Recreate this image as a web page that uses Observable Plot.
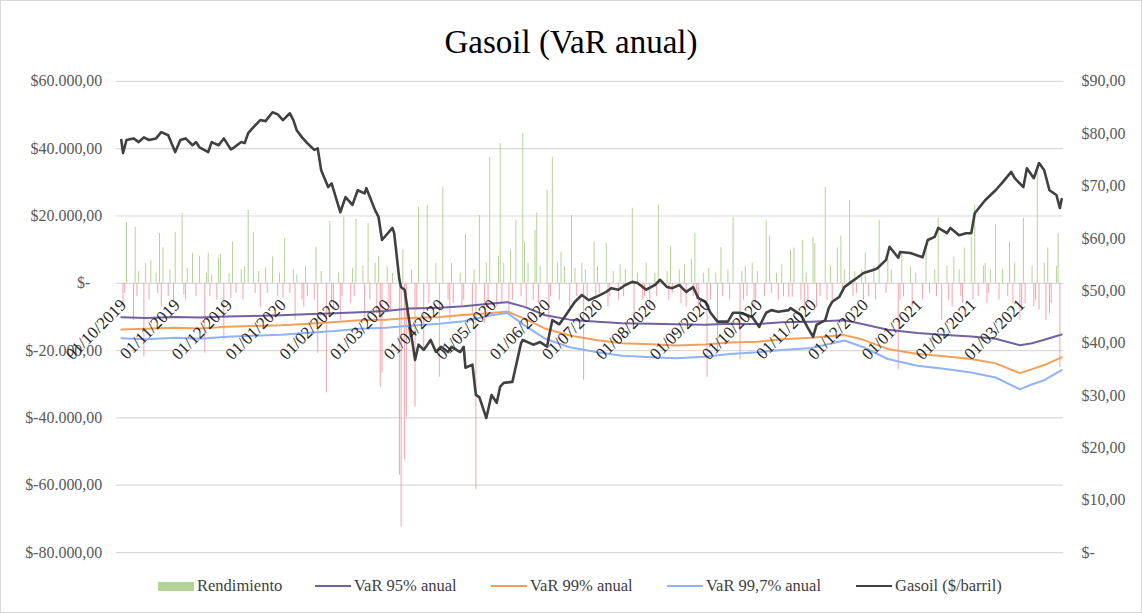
<!DOCTYPE html>
<html><head><meta charset="utf-8">
<script src="https://cdn.jsdelivr.net/npm/d3@7"></script>
<script src="https://cdn.jsdelivr.net/npm/@observablehq/plot@0.6"></script>
<style>
body{margin:0;background:#fff;}
#wrap{position:relative;width:1142px;height:613px;overflow:hidden;font-family:"Liberation Serif","Times New Roman",serif;box-sizing:border-box;border:1px solid #d9d9d9;}
#wrap svg{position:absolute;left:-1px;top:-1px;}
#title{position:absolute;left:0;width:1140px;top:21px;text-align:center;font-size:33px;line-height:40px;color:#000;}
.leg{position:absolute;top:575px;height:20px;font-size:16.5px;line-height:20px;color:#404040;white-space:nowrap;}
.sw{position:absolute;}
</style></head><body>
<div id="wrap"><div id="title">Gasoil (VaR anual)</div><div id="legend"></div></div>
<script>
// ---- DATA ----
const monthTicks = ["2019-10-01","2019-11-01","2019-12-01","2020-01-01","2020-02-01","2020-03-01","2020-04-01","2020-05-01","2020-06-01","2020-07-01","2020-08-01","2020-09-01","2020-10-01","2020-11-01","2020-12-01","2021-01-01","2021-02-01","2021-03-01"];
const leftTicks = [60000,40000,20000,0,-20000,-40000,-60000,-80000];
const rightTicks = [90,80,70,60,50,40,30,20,10,0];

// Rendimiento (daily P&L)
const rendimiento = [
["2019-10-02",-7100],["2019-10-03",-3000],["2019-10-04",18000],["2019-10-08",-11000],["2019-10-09",16600],["2019-10-10",-4000],["2019-10-11",3500],["2019-10-14",-21900],["2019-10-15",5900],["2019-10-17",-5000],["2019-10-18",6800],["2019-10-21",3000],["2019-10-22",-3000],["2019-10-23",14800],["2019-10-24",-7100],["2019-10-25",10500],["2019-10-28",-4000],["2019-10-29",4000],["2019-10-31",-5500],
["2019-11-01",15100],["2019-11-05",20800],["2019-11-06",-3500],["2019-11-07",-5000],["2019-11-08",4500],["2019-11-11",8900],["2019-11-13",-4000],["2019-11-15",8000],["2019-11-18",-20800],["2019-11-19",3000],["2019-11-20",9000],["2019-11-21",-4000],["2019-11-22",2500],["2019-11-25",-5000],["2019-11-26",7500],["2019-11-27",8500],["2019-11-29",-16900],
["2019-12-02",3000],["2019-12-03",-4500],["2019-12-04",12200],["2019-12-06",-3000],["2019-12-09",4000],["2019-12-10",-5000],["2019-12-11",5000],["2019-12-13",21700],["2019-12-16",15100],["2019-12-17",-3000],["2019-12-19",3500],["2019-12-20",-7100],["2019-12-23",4500],["2019-12-24",-3000],["2019-12-27",7800],["2019-12-30",-4000],["2019-12-31",3000],
["2020-01-02",-4500],["2020-01-03",13200],["2020-01-06",-3000],["2020-01-08",4000],["2020-01-09",-11000],["2020-01-10",2500],["2020-01-13",-5000],["2020-01-14",-7100],["2020-01-15",5000],["2020-01-16",-4000],["2020-01-20",-5000],["2020-01-21",10700],["2020-01-22",-20800],["2020-01-24",3500],["2020-01-27",-32600],["2020-01-29",18400],["2020-01-30",-6000],["2020-01-31",-8000],
["2020-02-03",3000],["2020-02-04",-11000],["2020-02-05",-4000],["2020-02-06",19600],["2020-02-10",-6000],["2020-02-11",4500],["2020-02-12",-4000],["2020-02-13",19000],["2020-02-17",5000],["2020-02-18",-11000],["2020-02-20",17800],["2020-02-21",-5000],["2020-02-24",6000],["2020-02-25",-9000],["2020-02-26",8000],["2020-02-27",-30800],["2020-02-28",-26700],
["2020-03-02",5000],["2020-03-03",-6000],["2020-03-04",-8000],["2020-03-05",3000],["2020-03-09",-57000],["2020-03-10",-72400],["2020-03-11",9800],["2020-03-12",-52500],["2020-03-13",-39800],["2020-03-16",4000],["2020-03-18",-36800],["2020-03-19",-8000],["2020-03-20",22600],["2020-03-23",-19900],["2020-03-25",23100],["2020-03-26",-6000],["2020-03-30",6000],
["2020-04-01",-27900],["2020-04-03",28500],["2020-04-06",-5000],["2020-04-07",-11000],["2020-04-08",5900],["2020-04-09",-6000],["2020-04-13",3000],["2020-04-14",-7100],["2020-04-15",-5000],["2020-04-16",14500],["2020-04-20",-9000],["2020-04-21",4000],["2020-04-22",-61400],["2020-04-24",20200],["2020-04-27",-12000],["2020-04-28",6000],["2020-04-29",-7000],["2020-04-30",37400],
["2020-05-04",-7100],["2020-05-05",8000],["2020-05-06",41500],["2020-05-07",-6000],["2020-05-08",5900],["2020-05-11",-9000],["2020-05-12",10000],["2020-05-13",-5000],["2020-05-15",18700],["2020-05-18",-4000],["2020-05-19",44500],["2020-05-20",12200],["2020-05-21",-7100],["2020-05-22",6000],["2020-05-25",-5000],["2020-05-26",15700],["2020-05-27",20800],["2020-05-28",-6000],["2020-05-29",5000],
["2020-06-02",27600],["2020-06-03",-11000],["2020-06-04",-4000],["2020-06-05",37400],["2020-06-08",6000],["2020-06-09",-5000],["2020-06-10",9200],["2020-06-12",5000],["2020-06-15",-8000],["2020-06-16",20200],["2020-06-18",4500],["2020-06-19",-4000],["2020-06-22",6000],["2020-06-23",-28800],["2020-06-24",4000],["2020-06-25",-5000],["2020-06-29",12200],["2020-06-30",-4000],
["2020-07-01",5000],["2020-07-02",-3000],["2020-07-06",11900],["2020-07-07",-7100],["2020-07-08",-4000],["2020-07-10",3500],["2020-07-13",-5000],["2020-07-14",5500],["2020-07-16",-4000],["2020-07-17",4000],["2020-07-21",22300],["2020-07-22",-11000],["2020-07-24",3000],["2020-07-27",-5000],["2020-07-28",-4000],["2020-07-29",6000],["2020-07-31",-7100],
["2020-08-03",3000],["2020-08-04",-4000],["2020-08-05",23100],["2020-08-10",3500],["2020-08-11",-5000],["2020-08-12",10700],["2020-08-13",-3000],["2020-08-17",4000],["2020-08-18",-6000],["2020-08-20",5500],["2020-08-21",-7100],["2020-08-24",7000],["2020-08-25",-4000],["2020-08-26",14800],["2020-08-27",-5000],["2020-08-28",-8000],["2020-08-31",3000],
["2020-09-02",-27900],["2020-09-03",4500],["2020-09-04",-5000],["2020-09-07",3000],["2020-09-08",-20800],["2020-09-10",10700],["2020-09-11",-4000],["2020-09-14",4000],["2020-09-15",-5000],["2020-09-17",19600],["2020-09-21",-22800],["2020-09-22",3500],["2020-09-23",-5000],["2020-09-24",5000],["2020-09-25",-4000],["2020-09-28",6000],["2020-09-29",-7100],["2020-09-30",-6000],
["2020-10-01",3500],["2020-10-05",-4000],["2020-10-06",18700],["2020-10-08",14000],["2020-10-09",-3000],["2020-10-12",3000],["2020-10-13",-5000],["2020-10-15",5500],["2020-10-16",-4000],["2020-10-19",-4200],["2020-10-20",9800],["2020-10-21",-4200],["2020-10-22",10500],["2020-10-26",-5000],["2020-10-27",12800],["2020-10-28",-8000],["2020-10-29",3000],["2020-10-30",-6000],
["2020-11-02",13600],["2020-11-03",11800],["2020-11-04",-7100],["2020-11-06",-4000],["2020-11-09",28500],["2020-11-10",-5000],["2020-11-12",5000],["2020-11-13",-5000],["2020-11-16",10500],["2020-11-18",14000],["2020-11-19",-3000],["2020-11-20",4000],["2020-11-23",24600],["2020-11-25",-4000],["2020-11-26",3500],["2020-11-27",-3000],["2020-11-30",4000],
["2020-12-01",-5000],["2020-12-02",9000],["2020-12-04",-4000],["2020-12-07",5000],["2020-12-08",-5000],["2020-12-10",18700],["2020-12-14",-3000],["2020-12-15",7500],["2020-12-17",4000],["2020-12-21",-25800],["2020-12-22",-5000],["2020-12-23",8900],["2020-12-24",-4000],["2020-12-28",5000],["2020-12-29",-7100],["2020-12-31",3000],
["2021-01-04",-5000],["2021-01-06",10500],["2021-01-08",-3000],["2021-01-11",4000],["2021-01-12",-4000],["2021-01-13",19300],["2021-01-15",-11000],["2021-01-18",5000],["2021-01-19",-5000],["2021-01-21",-7100],["2021-01-22",7700],["2021-01-25",4000],["2021-01-26",-4000],["2021-01-27",-6000],["2021-01-28",10500],
["2021-02-01",13600],["2021-02-02",-5000],["2021-02-03",23100],["2021-02-05",-4000],["2021-02-08",5000],["2021-02-09",6000],["2021-02-10",-6000],["2021-02-11",-3000],["2021-02-12",4000],["2021-02-15",17500],["2021-02-17",-5000],["2021-02-19",4000],["2021-02-22",-4000],["2021-02-23",12200],["2021-02-25",-6000],["2021-02-26",6000],
["2021-03-01",-11000],["2021-03-02",-8000],["2021-03-03",19300],["2021-03-04",-6000],["2021-03-08",5000],["2021-03-09",-7100],["2021-03-10",-5000],["2021-03-11",35000],["2021-03-12",-8000],["2021-03-15",6000],["2021-03-16",-11000],["2021-03-17",10500],["2021-03-18",-9000],["2021-03-19",-6000],["2021-03-22",5000],["2021-03-23",14800],["2021-03-24",-25000]
];

// Gasoil price ($/barril)
const gasoil = [
["2019-10-01",78.8],["2019-10-02",76.3],["2019-10-04",78.8],["2019-10-08",79.1],["2019-10-11",78.4],["2019-10-14",79.3],["2019-10-17",78.8],["2019-10-21",79.1],["2019-10-24",80.3],["2019-10-28",79.7],
["2019-11-01",76.5],["2019-11-04",78.8],["2019-11-07",79.1],["2019-11-11",77.8],["2019-11-13",78.4],["2019-11-15",77.4],["2019-11-20",76.5],["2019-11-22",78.4],["2019-11-26",77.8],["2019-11-29",79.1],
["2019-12-03",77.0],["2019-12-05",77.4],["2019-12-09",78.4],["2019-12-11",78.2],["2019-12-13",80.1],["2019-12-17",81.6],["2019-12-20",82.6],["2019-12-23",82.4],["2019-12-27",84.1],["2019-12-30",83.7],
["2020-01-02",82.6],["2020-01-06",83.9],["2020-01-08",82.6],["2020-01-10",80.6],["2020-01-13",79.3],["2020-01-16",78.2],["2020-01-20",76.9],["2020-01-22",77.2],["2020-01-24",73.0],["2020-01-28",69.8],["2020-01-30",70.5],
["2020-02-04",65.0],["2020-02-07",67.9],["2020-02-11",66.4],["2020-02-14",69.2],["2020-02-18",68.6],["2020-02-19",69.6],["2020-02-21",67.9],["2020-02-24",65.4],["2020-02-26",64.1],["2020-02-28",59.7],
["2020-03-05",62.0],["2020-03-06",61.0],["2020-03-09",52.1],["2020-03-10",50.7],["2020-03-12",50.2],["2020-03-16",41.2],["2020-03-18",36.8],["2020-03-20",39.7],["2020-03-23",38.7],["2020-03-27",40.6],["2020-03-30",38.3],
["2020-04-02",39.3],["2020-04-06",38.3],["2020-04-08",39.3],["2020-04-13",38.3],["2020-04-15",39.3],["2020-04-16",35.3],["2020-04-20",35.9],["2020-04-22",30.1],["2020-04-24",29.7],["2020-04-28",25.7],
["2020-05-01",30.1],["2020-05-04",28.6],["2020-05-06",31.7],["2020-05-08",32.4],["2020-05-13",32.6],["2020-05-18",40.0],["2020-05-19",40.6],["2020-05-25",39.7],["2020-05-29",40.2],
["2020-06-02",39.3],["2020-06-03",41.2],["2020-06-05",44.4],["2020-06-09",43.6],["2020-06-12",45.0],["2020-06-18",47.9],["2020-06-22",49.2],["2020-06-26",48.2],["2020-06-30",48.8],
["2020-07-06",49.8],["2020-07-09",50.5],["2020-07-13",50.2],["2020-07-17",51.1],["2020-07-21",51.7],["2020-07-24",51.5],["2020-07-29",50.2],
["2020-08-03",51.1],["2020-08-06",52.1],["2020-08-10",50.7],["2020-08-13",50.5],["2020-08-17",51.1],["2020-08-21",49.8],["2020-08-25",50.7],["2020-08-28",48.6],
["2020-09-01",47.9],["2020-09-04",45.8],["2020-09-08",44.1],["2020-09-14",44.1],["2020-09-17",45.8],["2020-09-21",45.8],["2020-09-28",45.0],
["2020-10-02",43.1],["2020-10-06",45.8],["2020-10-09",46.3],["2020-10-13",46.0],["2020-10-19",46.3],["2020-10-20",46.7],["2020-10-26",45.4],["2020-10-30",42.9],
["2020-11-02",41.2],["2020-11-04",43.5],["2020-11-09",44.4],["2020-11-11",46.7],["2020-11-13",47.9],["2020-11-17",48.8],["2020-11-20",50.7],["2020-11-24",51.7],["2020-11-27",52.4],
["2020-12-01",53.4],["2020-12-07",54.0],["2020-12-09",54.3],["2020-12-14",55.9],["2020-12-16",58.4],["2020-12-21",56.3],["2020-12-22",57.4],["2020-12-28",57.2],
["2021-01-04",56.4],["2021-01-07",59.7],["2021-01-11",60.3],["2021-01-13",62.0],["2021-01-18",61.0],["2021-01-20",62.0],["2021-01-25",60.6],["2021-01-29",61.0],
["2021-02-01",61.0],["2021-02-03",64.8],["2021-02-09",67.3],["2021-02-15",69.2],["2021-02-19",70.7],["2021-02-24",72.7],["2021-02-26",71.5],
["2021-03-03",69.8],["2021-03-05",73.4],["2021-03-09",71.5],["2021-03-12",74.4],["2021-03-15",73.0],["2021-03-18",69.2],["2021-03-22",68.3],["2021-03-24",65.8],["2021-03-25",67.5]
];

// VaR series
const varDates = ["2019-10-01","2019-10-15","2019-11-01","2019-11-15","2019-12-01","2019-12-15","2020-01-01","2020-01-15","2020-02-01","2020-02-15","2020-03-01","2020-03-15","2020-04-01","2020-04-15","2020-05-01","2020-05-10","2020-05-20","2020-06-01","2020-06-15","2020-07-01","2020-07-15","2020-08-01","2020-08-15","2020-09-01","2020-09-15","2020-10-01","2020-10-15","2020-11-01","2020-11-20","2020-12-01","2020-12-15","2021-01-01","2021-01-15","2021-02-01","2021-02-15","2021-03-01","2021-03-08","2021-03-15","2021-03-25"];
const var95  = [-10100,-10300,-10000,-10200,-9900,-9700,-9500,-9200,-8900,-8600,-8200,-7500,-7300,-6800,-6000,-5600,-7000,-9500,-10800,-11400,-11900,-12000,-12200,-12300,-12000,-12100,-11600,-11400,-11000,-12200,-13800,-14800,-15300,-15800,-16500,-18400,-17800,-16800,-15200];
const var99  = [-13700,-13500,-13200,-13400,-12900,-12700,-12500,-12100,-11500,-11000,-10800,-10300,-10000,-9400,-8800,-8400,-10500,-13500,-15500,-16900,-17800,-18100,-18500,-18200,-17600,-17400,-16600,-16200,-15400,-16800,-19500,-21000,-21600,-22500,-23800,-26700,-25500,-24300,-22000];
const var997 = [-16300,-16600,-16200,-16500,-15900,-15600,-15300,-14800,-14200,-13500,-13200,-12600,-12000,-11300,-9500,-8800,-12500,-16500,-19000,-20500,-21500,-22000,-22300,-21800,-21000,-20500,-19800,-19200,-17000,-19000,-22500,-24500,-25300,-26500,-28000,-31500,-30000,-28800,-25800];

const legendItems = [
  {label:"Rendimiento", color:"#b4d397", kind:"rect"},
  {label:"VaR 95% anual", color:"#7161a3", kind:"line"},
  {label:"VaR 99% anual", color:"#f5a05a", kind:"line"},
  {label:"VaR 99,7% anual", color:"#8fb3f5", kind:"line"},
  {label:"Gasoil ($/barril)", color:"#404040", kind:"line"}
];

// ---- BUILD ----
const parse = d3.utcParse("%Y-%m-%d");
const bars = rendimiento.map(([d, v]) => ({date: parse(d), v}));
const pos = bars.filter(d => d.v >= 0), neg = bars.filter(d => d.v < 0);
const price = gasoil.map(([d, p]) => ({date: parse(d), p}));
const vars = varDates.map((d, i) => ({date: parse(d), v95: var95[i], v99: var99[i], v997: var997[i]}));
const toLeft = p => p * 140000 / 90 - 80000;
const fromLeft = v => Math.round((v + 80000) * 90 / 140000);
const thou = d3.format(",");
const fmtLeft = v => v === 0 ? "$-\u00a0\u00a0\u00a0" : (v < 0 ? "$-" : "$") + thou(Math.abs(v)).replace(/,/g, ".") + ",00";
const fmtRight = p => p === 0 ? "$-" : "$" + p + ",00";
const fmtDate = d3.utcFormat("%d/%m/%Y");

const chart = Plot.plot({
  width: 1142, height: 613,
  marginLeft: 116, marginRight: 77, marginTop: 81, marginBottom: 60,
  style: {fontFamily: "Liberation Serif, Times New Roman, serif", fontSize: "16px", color: "#595959", background: "transparent", overflow: "visible"},
  x: {type: "utc", domain: [parse("2019-10-01"), parse("2021-03-25")], range: [121, 1063], axis: null},
  y: {domain: [-80000, 60000]},
  marks: [
    Plot.ruleY(leftTicks, {stroke: "#d9d9d9", strokeWidth: 1.2}),
    Plot.ruleX(pos, {x: "date", y1: 0, y2: "v", stroke: "#b4d397", strokeWidth: 1}),
    Plot.ruleX(neg, {x: "date", y1: 0, y2: "v", stroke: "#f7a1a9", strokeWidth: 1}),
    Plot.lineY(vars, {x: "date", y: "v95", stroke: "#7161a3", strokeWidth: 2}),
    Plot.lineY(vars, {x: "date", y: "v99", stroke: "#f5a05a", strokeWidth: 2}),
    Plot.lineY(vars, {x: "date", y: "v997", stroke: "#8fb3f5", strokeWidth: 2}),
    Plot.lineY(price, {x: "date", y: d => toLeft(d.p), stroke: "#404040", strokeWidth: 2.6}),
    Plot.axisY(leftTicks, {anchor: "left", tickSize: 0, tickPadding: 14, tickFormat: fmtLeft, label: null}),
    Plot.axisY(rightTicks.map(toLeft), {anchor: "right", tickSize: 0, tickPadding: 18, tickFormat: v => fmtRight(fromLeft(v)), label: null}),
    Plot.text(monthTicks.map(parse), {x: d => d, y: () => 0, text: d => fmtDate(d), rotate: -45, textAnchor: "end", lineAnchor: "middle", dx: 2, dy: 19, fill: "#262626", fontSize: 17})
  ]
});
const wrap = document.getElementById("wrap");
wrap.insertBefore(chart, wrap.firstChild);

// legend
const legendX = [157, 314, 490, 666, 855];
legendItems.forEach((it, i) => {
  const sw = document.createElement("div");
  sw.className = "sw";
  sw.style.left = legendX[i] + "px";
  sw.style.width = "36px";
  if (it.kind === "rect") { sw.style.top = "581px"; sw.style.height = "9px"; }
  else { sw.style.top = "584px"; sw.style.height = "2px"; }
  sw.style.background = it.color;
  wrap.appendChild(sw);
  const t = document.createElement("div");
  t.className = "leg";
  t.style.left = (legendX[i] + 39) + "px";
  t.textContent = it.label;
  wrap.appendChild(t);
});
</script>
</body></html>
